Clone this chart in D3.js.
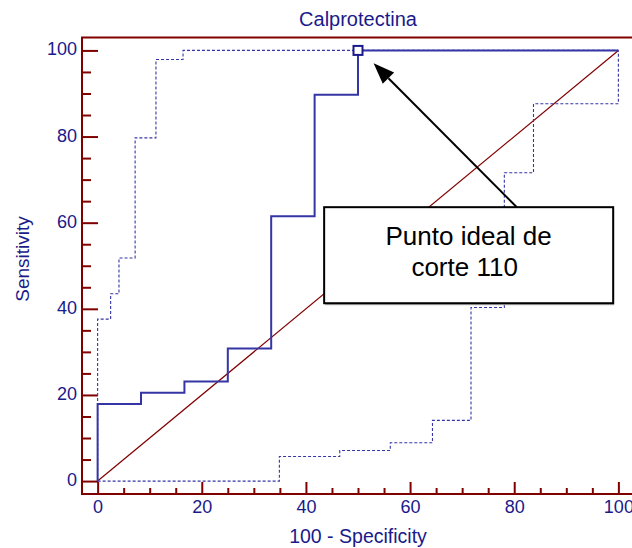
<!DOCTYPE html>
<html>
<head>
<meta charset="utf-8">
<script src="https://cdn.jsdelivr.net/npm/d3@7/dist/d3.min.js"></script>
<style>
  html, body { margin: 0; padding: 0; background: #ffffff; }
  svg { display: block; font-family: Arial, "Liberation Sans", Helvetica, sans-serif; }
</style>
</head>
<body>
<svg id="chart" width="632" height="548"></svg>
<script>
// ---------- data ----------
const chartTitle = "Calprotectina";
const xLabel = "100 - Specificity";
const yLabel = "Sensitivity";
const majorTicks = [0, 20, 40, 60, 80, 100];
const minorTicks = [5, 10, 15, 25, 30, 35, 45, 50, 55, 65, 70, 75, 85, 90, 95];

// empirical ROC curve (100 - specificity, sensitivity), step points
const rocX = [0, 0, 8.33, 16.67, 25, 33.33, 41.67, 50, 100];
const rocY = [0, 17.9, 20.5, 23.1, 30.8, 61.5, 89.7, 100, 100];

// upper confidence bound
const upperX = [0, 0, 2.5, 4.1, 7.2, 11.2, 16.4, 100];
const upperY = [0, 37.6, 43.5, 51.8, 79.7, 97.9, 100, 100];

// lower confidence bound
const lowerX = [0, 34.9, 46.5, 56.2, 64.3, 71.7, 78.1, 83.7, 100];
const lowerY = [0, 5.7, 7.1, 8.9, 14.1, 40.3, 71.6, 87.6, 100];

// optimal cut-off point
const cutX = [50];
const cutY = [100];
const noteLines = ["Punto ideal de", "corte 110"];

// ---------- styling ----------
const axisColor = "#800000";
const textColor = "#1a1a8a";
const curveColor = "#3535a5";

const svg = d3.select("#chart");

const x = d3.scaleLinear().domain([-3, 103]).range([82, 634]);
const y = d3.scaleLinear().domain([-3, 103]).range([494, 37.5]);

// frame (top, left, bottom; right spine falls just outside)
svg.append("rect")
  .attr("x", x(-3)).attr("y", y(103))
  .attr("width", x(103) - x(-3)).attr("height", y(-3) - y(103))
  .attr("fill", "none").attr("stroke", axisColor).attr("stroke-width", 2);

// axes
function styleAxis(g) {
  g.select(".domain").remove();
  g.selectAll(".tick line").attr("stroke", axisColor).attr("stroke-width", 2);
  g.selectAll(".tick text").attr("fill", textColor).style("font-size", "18px")
    .style("font-family", 'Arial, "Liberation Sans", Helvetica, sans-serif');
}

svg.append("g").attr("transform", `translate(${x(-3)},0)`)
  .call(d3.axisLeft(y).tickValues(minorTicks).tickSize(-9).tickFormat(""))
  .call(styleAxis);
svg.append("g").attr("transform", `translate(${x(-3)},0)`)
  .call(d3.axisLeft(y).tickValues(majorTicks).tickSize(-16).tickPadding(5).tickFormat(d3.format("d")))
  .call(styleAxis)
  .call(g => g.selectAll(".tick text").attr("dy", "0.25em"));

svg.append("g").attr("transform", `translate(0,${y(-3)})`)
  .call(d3.axisBottom(x).tickValues(minorTicks).tickSize(-6).tickFormat(""))
  .call(styleAxis);
svg.append("g").attr("transform", `translate(0,${y(-3)})`)
  .call(d3.axisBottom(x).tickValues(majorTicks).tickSize(-12).tickPadding(6).tickFormat(d3.format("d")))
  .call(styleAxis);

// diagonal reference line
svg.append("line")
  .attr("x1", x(0)).attr("y1", y(0)).attr("x2", x(100)).attr("y2", y(100))
  .attr("stroke", axisColor).attr("stroke-width", 1.2);

const stepLine = d3.line().x(d => x(d[0])).y(d => y(d[1])).curve(d3.curveStepAfter);
const zip = (a, b) => a.map((v, i) => [v, b[i]]);

// confidence bounds (dashed)
[zip(upperX, upperY), zip(lowerX, lowerY)].forEach(pts => {
  svg.append("path").attr("d", stepLine(pts))
    .attr("fill", "none").attr("stroke", curveColor)
    .attr("stroke-width", 1.1).attr("stroke-dasharray", "3,2");
});

// ROC curve
svg.append("path").attr("d", stepLine(zip(rocX, rocY)))
  .attr("fill", "none").attr("stroke", curveColor).attr("stroke-width", 2);

// cut-off marker
svg.selectAll("rect.cut").data(zip(cutX, cutY)).enter().append("rect")
  .attr("class", "cut")
  .attr("x", d => x(d[0]) - 4.5).attr("y", d => y(d[1]) - 4.5)
  .attr("width", 9).attr("height", 9)
  .attr("fill", "#ffffff").attr("stroke", textColor).attr("stroke-width", 2);

// annotation arrow
const tail = [x(80.5), y(63.6)];
const tip = [x(53.0), y(97.0)];
const ang = Math.atan2(tip[1] - tail[1], tip[0] - tail[0]);
const headLen = 21, headHalf = 8;
const base = [tip[0] - headLen * Math.cos(ang), tip[1] - headLen * Math.sin(ang)];
svg.append("line")
  .attr("x1", tail[0]).attr("y1", tail[1]).attr("x2", base[0]).attr("y2", base[1])
  .attr("stroke", "#000").attr("stroke-width", 2);
svg.append("polygon")
  .attr("points", [
    tip,
    [base[0] + headHalf * Math.sin(ang), base[1] - headHalf * Math.cos(ang)],
    [base[0] - headHalf * Math.sin(ang), base[1] + headHalf * Math.cos(ang)]
  ].map(p => p.join(",")).join(" "))
  .attr("fill", "#000");

// annotation box
const bx0 = x(43.5), bx1 = x(99.0), by0 = y(63.6), by1 = y(41.3);
svg.append("rect")
  .attr("x", bx0 + 1).attr("y", by0 + 2).attr("width", bx1 - bx0).attr("height", by1 - by0)
  .attr("fill", "#b0b0b0");
svg.append("rect")
  .attr("x", bx0).attr("y", by0).attr("width", bx1 - bx0).attr("height", by1 - by0)
  .attr("fill", "#ffffff").attr("stroke", "#000").attr("stroke-width", 2);
svg.append("text").attr("x", (bx0 + bx1) / 2).attr("y", by0 + 38)
  .attr("text-anchor", "middle").style("font-size", "26px").attr("fill", "#000")
  .text(noteLines[0]);
svg.append("text").attr("x", (bx0 + bx1) / 2 - 4).attr("y", by0 + 69)
  .attr("text-anchor", "middle").style("font-size", "26px").attr("fill", "#000")
  .text(noteLines[1]);

// titles
svg.append("text").attr("x", 358).attr("y", 26)
  .attr("text-anchor", "middle").style("font-size", "20px").attr("fill", textColor)
  .text(chartTitle);
svg.append("text").attr("x", 358).attr("y", 543)
  .attr("text-anchor", "middle").style("font-size", "19.5px").attr("fill", textColor)
  .text(xLabel);
svg.append("text").attr("transform", "translate(29,259) rotate(-90)")
  .attr("text-anchor", "middle").style("font-size", "19px").attr("fill", textColor)
  .text(yLabel);
</script>
</body>
</html>
